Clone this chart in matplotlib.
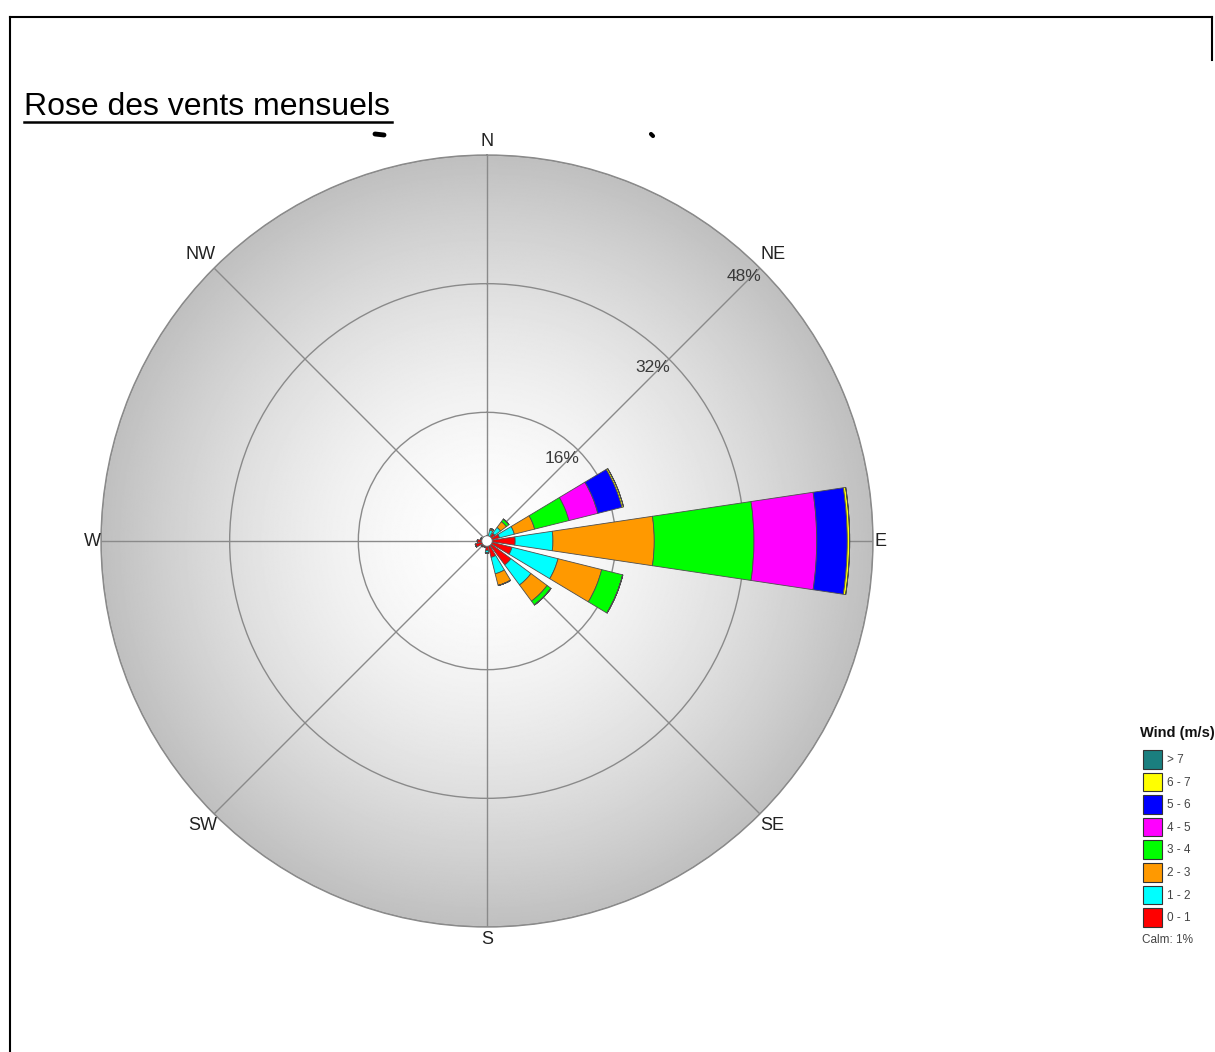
import numpy as np
import matplotlib
matplotlib.use("Agg")
import matplotlib.pyplot as plt
from matplotlib.patches import Rectangle, Circle
from matplotlib.lines import Line2D

plt.rcParams['font.family'] = ['Liberation Sans', 'DejaVu Sans']

# ---- data: frequency (%) per direction and speed class ----
directions = ["N", "NNE", "NE", "ENE", "E", "ESE", "SE", "SSE",
              "S", "SSW", "SW", "WSW", "W", "WNW", "NW", "NNW"]
speed_classes = ["0 - 1", "1 - 2", "2 - 3", "3 - 4", "4 - 5", "5 - 6", "6 - 7", "> 7"]
class_colors = ["#ff0000", "#00ffff", "#ff9900", "#00ff00",
                "#ff00ff", "#0000ff", "#ffff00", "#1a7f7f"]

freq_0_1 = [0.4, 0.6, 1.2, 1.6, 3.5, 3.2, 3.7, 2.1, 1.2, 0.8, 0.9, 1.5, 1.2, 0.8, 0.5, 0.4]
freq_1_2 = [0.2, 0.8, 0.9, 1.9, 4.7, 5.9, 3.1, 2.1, 0.3, 0.0, 0.0, 0.0, 0.0, 0.0, 0.0, 0.0]
freq_2_3 = [0.0, 0.2, 0.9, 2.6, 12.6, 5.6, 2.5, 1.5, 0.0, 0.0, 0.0, 0.0, 0.0, 0.0, 0.0, 0.0]
freq_3_4 = [0.0, 0.0, 0.4, 4.4, 12.4, 2.7, 0.6, 0.0, 0.0, 0.0, 0.0, 0.0, 0.0, 0.0, 0.0, 0.0]
freq_4_5 = [0.0, 0.0, 0.0, 3.7, 7.8, 0.0, 0.0, 0.0, 0.0, 0.0, 0.0, 0.0, 0.0, 0.0, 0.0, 0.0]
freq_5_6 = [0.0, 0.0, 0.0, 3.1, 3.8, 0.0, 0.0, 0.0, 0.0, 0.0, 0.0, 0.0, 0.0, 0.0, 0.0, 0.0]
freq_6_7 = [0.0, 0.0, 0.0, 0.2, 0.3, 0.0, 0.0, 0.0, 0.0, 0.0, 0.0, 0.0, 0.0, 0.0, 0.0, 0.0]
freq_gt7 = [0.0] * 16
calm_pct = 1

ring_values = [16, 32, 48]
compass_labels = ["N", "NE", "E", "SE", "S", "SW", "W", "NW"]

W, H = 1215, 1052
fig = plt.figure(figsize=(W / 100, H / 100), dpi=100)
fig.patch.set_facecolor("white")

# rose geometry in pixels
cx, cy, R = 487, 541, 386
pos = [(cx - R) / W, 1 - (cy + R) / H, 2 * R / W, 2 * R / H]

# radial grey gradient behind the rose
bg = fig.add_axes(pos, zorder=0)
n = 600
yy, xx = np.mgrid[-1:1:n * 1j, -1:1:n * 1j]
rr = np.sqrt(xx ** 2 + yy ** 2)
shade = 1.0 - 0.25 * np.clip(rr, 0, 1) ** 1.6
img = bg.imshow(shade, cmap="gray", vmin=0, vmax=1, extent=[-1, 1, -1, 1],
                interpolation="bilinear")
img.set_clip_path(Circle((0, 0), 1.0, transform=bg.transData))
bg.set_xlim(-1, 1)
bg.set_ylim(-1, 1)
bg.axis("off")

ax = fig.add_axes(pos, projection="polar", zorder=1)
ax.set_facecolor("none")
ax.set_theta_zero_location("N")
ax.set_theta_direction(-1)
rmax = ring_values[-1]
ax.set_ylim(0, rmax)

theta = np.deg2rad(np.arange(16) * 22.5)
width = np.deg2rad(17)
series = [freq_0_1, freq_1_2, freq_2_3, freq_3_4, freq_4_5, freq_5_6, freq_6_7, freq_gt7]
bottom = np.zeros(16)
for vals, col in zip(series, class_colors):
    v = np.array(vals)
    ax.bar(theta, v, width=width, bottom=bottom, color=col,
           edgecolor="#4d4d4d", linewidth=0.6, zorder=3)
    bottom += v

# calm circle in the centre
tt = np.linspace(0, 2 * np.pi, 120)
ax.fill(tt, np.full_like(tt, 0.65), color="white", edgecolor="#666666",
        linewidth=0.6, zorder=5)

# grid
ax.set_xticks(np.deg2rad(np.arange(0, 360, 45)))
ax.set_xticklabels([])
ax.set_yticks(ring_values)
ax.set_yticklabels([])
ax.grid(True, color="#8a8a8a", linewidth=1.0)
ax.spines["polar"].set_color("#8a8a8a")
ax.spines["polar"].set_linewidth(1.0)

# compass labels just outside the rim (radial distance in pixels)
label_dist = [400, 405, 394, 403, 399, 402, 395, 405]
px_per_unit = R / rmax
for k, (lab, d) in enumerate(zip(compass_labels, label_dist)):
    ax.text(np.deg2rad(45 * k), d / px_per_unit, lab, fontsize=13,
            color="#222222", ha="center", va="center", clip_on=False)

# ring percentages, offset below-left of where each ring meets the NE spoke
for rv in ring_values:
    ax.annotate(f"{rv}%", xy=(np.deg2rad(45), rv), xytext=(-11.5, -6),
                textcoords="offset points", fontsize=12.5, color="#3a3a3a",
                ha="center", va="center", zorder=6)

# overlay in pixel coordinates: frame, title, legend
ov = fig.add_axes([0, 0, 1, 1], zorder=2)
ov.set_xlim(0, W)
ov.set_ylim(H, 0)
ov.axis("off")
ov.patch.set_alpha(0)

ov.add_line(Line2D([10, 10], [17, H + 5], color="black", linewidth=1.5))
ov.add_line(Line2D([10, 1212], [17, 17], color="black", linewidth=1.5))
ov.add_line(Line2D([1212, 1212], [17, 60], color="black", linewidth=1.5))

ov.text(24, 115, "Rose des vents mensuels", fontsize=23, color="black",
        ha="left", va="baseline")
ov.add_line(Line2D([24, 392], [122, 122], color="black", linewidth=1.8))

# fragments of a clipped heading above the rose
ov.add_line(Line2D([375, 384], [134, 135], color="black", linewidth=3.5,
                   solid_capstyle="round"))
ov.add_line(Line2D([651, 653], [134, 136], color="black", linewidth=3.0,
                   solid_capstyle="round"))

# legend
ov.text(1140, 733, "Wind (m/s)", fontsize=10.5, fontweight="bold",
        color="#111111", ha="left", va="center")
leg_top = 750
step = 22.6
for i, (lab, col) in enumerate(zip(speed_classes[::-1], class_colors[::-1])):
    y0 = leg_top + i * step
    ov.add_patch(Rectangle((1143, y0), 19, 18.5, facecolor=col,
                           edgecolor="#333333", linewidth=0.8))
    ov.text(1167, y0 + 10, lab, fontsize=8.5, color="#444444",
            ha="left", va="center")
ov.text(1142, 940, f"Calm: {calm_pct}%", fontsize=8.5, color="#444444",
        ha="left", va="center")

fig.savefig("out.png", dpi=100)
